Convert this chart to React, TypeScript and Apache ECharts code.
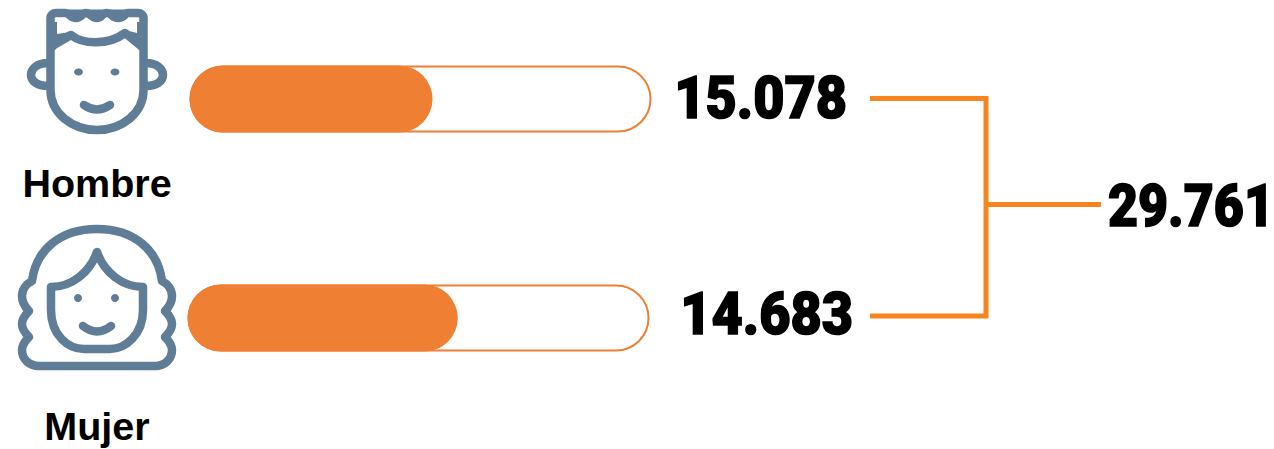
import React, { useEffect, useRef } from "react";
import * as echarts from "echarts";

const categories = ["Hombre", "Mujer"];
const totals = ["15.078", "14.683"];
const grandTotal = "29.761";
const fillShares = [52.6, 58.5];
const trackShares = [100, 100];

const ORANGE = "#EE7F33";
const LINE = "#F8841F";
const SLATE = "#5F7D97";

const boyPaths =
  "M50.5,90 C50.5,113 72,130 97,130 C122,130 143.5,113 143.5,90 L143.5,18 C143.5,15 141,13 138,13 L128,13 C125,13 124,18 118,18 C112,18 112,13 107,13 C102,13 102,18 97,18 C92,18 90,13 86,13 C82,13 82,18 76,18 C70,18 70,13 65,13 L56,13 C53,13 50.5,15 50.5,18 Z " +
  "M52,46 L71,35 C82,44 108,46 125,33 L141,46 " +
  "M48,63 C37,63 31,69 31,75 C31,81 37,86 48,86 " +
  "M146,63 C157,63 163,69 163,75 C163,81 157,86 146,86 " +
  "M84,105 Q97,114 110,105";

const boyFill =
  "M52,22 L57,22 L57,34 L70,32 L55,50 L52,50 Z M137,22 L143,22 L143,50 L139,50 L125,30 L137,33 Z M56,9.5 L138,9.5 L138,15 L56,15 Z";

const girlPaths =
  "M32,281 C36,250 60,229 97,229 C134,229 158,250 162,281 C168,284 172,290 172,296 C172,303 168,308 165,311 C169,315 172,319 172,324 C172,330 168,334 165,337 C169,341 172,345 172,350 C172,359 165,366 155,366 L39,366 C29,366 22,359 22,350 C22,345 25,341 29,337 C26,334 22,330 22,324 C22,319 25,315 29,311 C26,308 22,303 22,296 C22,290 26,284 32,281 Z " +
  "M51,287 C72,287 90,272 97,252 C104,272 122,287 143,287 L143,310 C143,335 125,349 110,349 L84,349 C68,349 51,335 51,310 Z " +
  "M83,326 Q97,337 111,326";

echarts.graphic.registerShape("boyIcon", echarts.graphic.extendPath(boyPaths, {}) as any);
echarts.graphic.registerShape("boyFill", echarts.graphic.extendPath(boyFill, {}) as any);
echarts.graphic.registerShape("girlIcon", echarts.graphic.extendPath(girlPaths, {}) as any);

const stroke = { fill: "none", stroke: SLATE, lineWidth: 8.5, lineCap: "round", lineJoin: "round" };

const numberText = (text: string, x: number, y: number, scaleX = 0.9) => ({
  type: "text",
  x,
  y,
  scaleX,
  style: {
    text,
    x: 0,
    y: 0,
    fill: "#000",
    stroke: "#000",
    lineWidth: 1.6,
    fontFamily: "Roboto",
    fontWeight: 900,
    fontSize: 60,
    textAlign: "right",
    textVerticalAlign: "middle",
  },
});

const nameText = (text: string, x: number, y: number) => ({
  type: "text",
  x,
  y,
  style: {
    text,
    x: 0,
    y: 0,
    fill: "#000",
    fontFamily: "Liberation Sans",
    fontWeight: "bold",
    fontSize: 39.5,
    textAlign: "center",
    textVerticalAlign: "middle",
  },
});

const grids = [
  { left: 189.5, top: 65.5, width: 462, height: 67 },
  { left: 187.5, top: 284.5, width: 462, height: 67 },
];

const barSeries = (i: number) => [
  {
    type: "bar",
    xAxisIndex: i,
    yAxisIndex: i,
    data: [trackShares[i]],
    barWidth: 67,
    barGap: "-100%",
    silent: true,
    itemStyle: { color: "#fff", borderColor: ORANGE, borderWidth: 2, borderRadius: 33.5 },
  },
  {
    type: "bar",
    xAxisIndex: i,
    yAxisIndex: i,
    data: [fillShares[i]],
    barWidth: 67,
    barGap: "-100%",
    silent: true,
    itemStyle: { color: ORANGE, borderRadius: 33.5 },
  },
];

export default function App() {
  const ref = useRef<HTMLDivElement>(null);
  useEffect(() => {
    const chart = echarts.init(ref.current!, null, { renderer: "svg" });
    chart.setOption({
      animation: false,
      backgroundColor: "#fff",
      grid: grids,
      xAxis: grids.map((_, i) => ({ type: "value", gridIndex: i, min: 0, max: 100, show: false })),
      yAxis: grids.map((_, i) => ({ type: "category", gridIndex: i, data: [categories[i]], show: false })),
      series: [...barSeries(0), ...barSeries(1)],
      graphic: [
        { type: "boyFill", style: { fill: SLATE } },
        { type: "boyIcon", style: stroke },
        { type: "ellipse", shape: { cx: 78.5, cy: 72, rx: 4.5, ry: 3.5 }, style: { fill: SLATE } },
        { type: "ellipse", shape: { cx: 115, cy: 72, rx: 4.5, ry: 3.5 }, style: { fill: SLATE } },
        { type: "girlIcon", style: stroke },
        { type: "circle", shape: { cx: 78, cy: 298, r: 4 }, style: { fill: SLATE } },
        { type: "circle", shape: { cx: 115, cy: 298, r: 4 }, style: { fill: SLATE } },
        nameText(categories[0], 97, 183),
        nameText(categories[1], 97, 426),
        numberText(totals[0], 847, 98),
        numberText(totals[1], 853, 314),
        numberText(grandTotal, 1274, 206, 0.865),
        {
          type: "polyline",
          shape: { points: [[870, 98.5], [986, 98.5], [986, 316], [870, 316]] },
          style: { fill: "none", stroke: LINE, lineWidth: 5, lineJoin: "miter" },
        },
        {
          type: "line",
          shape: { x1: 986, y1: 204.5, x2: 1101, y2: 204.5 },
          style: { stroke: LINE, lineWidth: 5 },
        },
      ],
    });
    return () => chart.dispose();
  }, []);
  return <div ref={ref} style={{ position: "fixed", left: 0, top: 0, width: 1274, height: 449 }} />;
}
